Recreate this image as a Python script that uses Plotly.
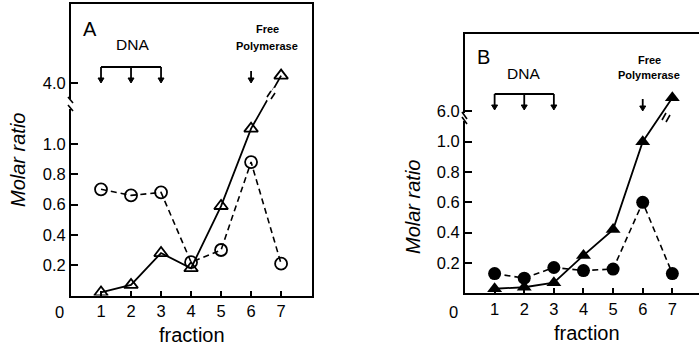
import plotly.graph_objects as go

W, H = 699, 351

# ---------------- data ----------------
fractions = [1, 2, 3, 4, 5, 6, 7]
a_triangle = [0.02, 0.07, 0.28, 0.18, 0.59, 1.10, 4.2]
a_circle = [0.70, 0.66, 0.68, 0.22, 0.30, 0.88, 0.21]
b_triangle = [0.03, 0.04, 0.07, 0.25, 0.42, 1.00, 6.45]
b_circle = [0.13, 0.10, 0.17, 0.15, 0.16, 0.60, 0.13]
x_ticks = [1, 2, 3, 4, 5, 6, 7]
a_yticks = [0.2, 0.4, 0.6, 0.8, 1.0, 4.0]
b_yticks = [0.2, 0.4, 0.6, 0.8, 1.0, 6.0]
dna_fractions = [1, 2, 3]
free_fraction = 6


# broken y axis: linear up to 1.2, compressed above the break
def tA(v):
    return v if v <= 1.2 else 1.4 + (v - 4.0) * 0.25


def tB(v):
    return v if v <= 1.2 else 1.2 + (v - 6.0) * 0.2


FONT = "Liberation Sans"

fig = go.Figure()

common_line = dict(color="black", width=1.8)

# Panel A
fig.add_trace(go.Scatter(x=fractions, y=[tA(v) for v in a_circle], mode="lines+markers",
                         line=dict(color="black", width=1.6, dash="6px,4px"),
                         marker=dict(symbol="circle-open", size=12, color="black", line=dict(width=1.8)),
                         xaxis="x", yaxis="y", showlegend=False))
fig.add_trace(go.Scatter(x=fractions, y=[tA(v) for v in a_triangle], mode="lines+markers",
                         line=common_line,
                         marker=dict(symbol="triangle-up-open", size=12, color="black", line=dict(width=1.8)),
                         xaxis="x", yaxis="y", showlegend=False))
# Panel B
fig.add_trace(go.Scatter(x=fractions, y=[tB(v) for v in b_circle], mode="lines+markers",
                         line=dict(color="black", width=1.6, dash="6px,4px"),
                         marker=dict(symbol="circle", size=13, color="black"),
                         xaxis="x2", yaxis="y2", showlegend=False))
fig.add_trace(go.Scatter(x=fractions, y=[tB(v) for v in b_triangle], mode="lines+markers",
                         line=common_line,
                         marker=dict(symbol="triangle-up", size=13, color="black"),
                         xaxis="x2", yaxis="y2", showlegend=False))

tickfont = dict(family=FONT, size=16.5, color="black")
axis_common = dict(showgrid=False, zeroline=False, showline=True, linecolor="black", linewidth=2,
                   ticks="inside", tickcolor="black", tickwidth=1.5, tickfont=tickfont)

fig.update_layout(
    width=W, height=H, margin=dict(l=0, r=0, t=0, b=0),
    paper_bgcolor="white", plot_bgcolor="white",
    xaxis=dict(domain=[71 / W, 312 / W], range=[0, 8.03], tickvals=x_ticks,
               ticktext=[str(t) for t in x_ticks], ticklen=5, mirror=True, anchor="y",
               **axis_common),
    yaxis=dict(domain=[1 - 295.5 / H, 1 - 4.3 / H], range=[0, 1.92], tickvals=[tA(v) for v in a_yticks],
               ticktext=[f"{v:.1f}" for v in a_yticks], ticklen=7, mirror=True, anchor="x",
               **axis_common),
    xaxis2=dict(domain=[465 / W, 1.0], range=[0, 7.9], tickvals=x_ticks,
                ticktext=[str(t) for t in x_ticks], ticklen=5, mirror=True, anchor="y2",
                **axis_common),
    yaxis2=dict(domain=[1 - 293.3 / H, 1 - 34 / H], range=[0, 1.71], tickvals=[tB(v) for v in b_yticks],
                ticktext=[f"{v:.1f}" for v in b_yticks], ticklen=7, mirror=False, anchor="x2",
                **axis_common),
)


def px(x):
    return x / W


def py(y):
    return 1 - y / H


ann = []


def text(x, y, s, size=15, bold=False, italic=False, angle=0):
    if bold:
        s = f"<b>{s}</b>"
    if italic:
        s = f"<i>{s}</i>"
    ann.append(dict(x=px(x), y=py(y), xref="paper", yref="paper", text=s, showarrow=False,
                    textangle=angle, font=dict(family=FONT, size=size, color="black"),
                    xanchor="center", yanchor="middle"))


# Panel A texts
text(59, 312, "0", size=16.5)
text(192, 335, "fraction", size=20)
text(18, 160, "Molar ratio", size=20, italic=True, angle=-90)
text(90, 29, "A", size=20)
text(132, 45, "DNA", size=15.5)
text(267, 29, "Free", size=11, bold=True)
text(267, 46, "Polymerase", size=11, bold=True)
# Panel B texts
text(454, 312, "0", size=16.5)
text(587, 333, "fraction", size=20)
text(413, 207, "Molar ratio", size=20, italic=True, angle=-90)
text(483, 57, "B", size=20)
text(523, 73, "DNA", size=15.5)
text(649, 60, "Free", size=11, bold=True)
text(649, 75, "Polymerase", size=11, bold=True)

shapes = []


def line(x0, y0, x1, y1, w=1.8, color="black"):
    shapes.append(dict(type="line", xref="paper", yref="paper", x0=px(x0), y0=py(y0),
                       x1=px(x1), y1=py(y1), line=dict(color=color, width=w)))


# data x -> page px
def xA(v):
    return 71 + v * (312 - 71) / 8.03


def xB(v):
    return 465 + v * (W - 465) / 7.9


# DNA brackets
line(xA(dna_fractions[0]), 67, xA(dna_fractions[-1]), 67)
line(xB(dna_fractions[0]), 94, xB(dna_fractions[-1]), 94)

arrows = []
for d in dna_fractions:
    arrows.append((xA(d), 67, 83))
    arrows.append((xB(d), 94, 110))
arrows.append((xA(free_fraction), 71, 83))
arrows.append((xB(free_fraction), 99, 111))
for (x, y0, y1) in arrows:
    line(x, y0, x, y1 - 4)
    shapes.append(dict(type="path", xref="paper", yref="paper",
                       path=f"M {px(x-3)} {py(y1-5)} L {px(x+3)} {py(y1-5)} L {px(x)} {py(y1)} Z",
                       fillcolor="black", line=dict(color="black", width=1)))

# y-axis break marks
line(71, 99, 71, 109, w=4, color="white")
line(68, 97, 73, 103, w=1.6)
line(68, 105, 73, 111, w=1.6)
line(465, 113, 465, 121, w=4, color="white")
line(462, 112, 467, 119, w=1.6)
line(462, 117, 467, 124, w=1.6)

# break on the line between fractions 6 and 7
line(268, 101, 276, 89, w=5, color="white")
line(267, 97, 271, 91, w=1.6)
line(271, 99, 275, 93, w=1.6)
line(663, 123, 671, 111, w=5, color="white")
line(662, 120, 666, 113, w=1.6)
line(666, 122, 670, 115, w=1.6)

fig.update_layout(annotations=ann, shapes=shapes)
fig.write_html("out.html", config={"displayModeBar": False},
               post_script="document.body.style.margin='0px';")
